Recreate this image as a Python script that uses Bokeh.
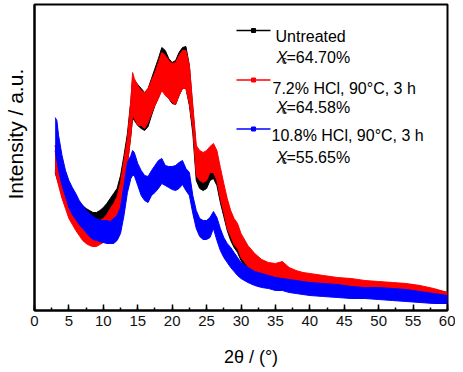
from bokeh.plotting import figure
from bokeh.models import Label, Range1d, SingleIntervalTicker, FixedTicker
from bokeh.embed import file_html
from bokeh.resources import INLINE

# ---------------- data (intensity in arbitrary units) ----------------
theta = [3.0, 3.25, 3.5, 4.0, 4.5, 5.0, 5.5, 6.0, 6.5, 7.0, 7.5, 8.0, 8.5, 9.0, 9.5,
         10.0, 10.5, 11.0, 11.5, 12.0, 12.5, 13.0, 13.5, 14.0, 14.25, 14.5, 15.0, 15.5,
         16.0, 16.5, 17.0, 17.5, 18.0, 18.5, 19.0, 19.5, 20.0, 20.5, 21.0, 21.5, 22.0,
         22.5, 23.0, 23.5, 24.0, 24.5, 25.0, 25.5, 26.0, 26.5, 27.0, 27.5, 28.0, 28.5,
         29.0, 29.5, 30.0, 31.0, 32.0, 33.0, 34.0, 35.0, 36.0, 37.0, 38.0, 39.0, 40.0,
         42.0, 44.0, 46.0, 48.0, 50.0, 52.0, 54.0, 56.0, 58.0, 60.0]

# Untreated (noise band: upper / lower envelope)
untreated_hi = [165, 157, 150, 140, 132, 127, 120, 114, 109, 105, 102, 100, 98, 98, 100,
                103, 107, 112, 117, 122, 135, 155, 177, 210, 232, 230, 226, 222,
                218, 222, 232, 242, 252, 263, 260, 252, 248, 250, 258, 263, 264,
                245, 202, 162, 155, 152, 154, 160, 163, 155, 138, 122, 108, 97,
                89, 82, 74, 60, 52, 47, 44, 43, 44, 40, 38, 36, 35,
                33, 32, 30, 29, 28, 27, 26, 24, 21, 18]
untreated_lo = [138, 132, 127, 115, 107, 100, 94, 88, 84, 80, 77, 75, 74, 74, 78,
                82, 86, 91, 97, 102, 110, 125, 147, 175, 192, 190, 185, 182,
                180, 184, 195, 205, 213, 222, 218, 212, 207, 206, 215, 222, 222,
                205, 177, 130, 122, 120, 122, 130, 132, 125, 108, 94, 80, 70,
                63, 58, 50, 40, 33, 30, 28, 27, 27, 25, 24, 22, 21,
                20, 19, 18, 16, 15, 14, 14, 12, 11, 10]

# 7.2% HCl, 90 C, 3 h
hcl72_hi = [165, 155, 148, 135, 125, 120, 112, 105, 100, 95, 91, 89, 88, 88, 90,
            92, 96, 102, 107, 114, 128, 150, 172, 210, 238, 232, 225, 220,
            218, 222, 230, 238, 248, 258, 255, 250, 247, 248, 255, 260, 260,
            245, 205, 165, 160, 158, 160, 164, 167, 160, 143, 127, 112, 100,
            92, 87, 77, 65, 57, 51, 48, 47, 49, 43, 40, 38, 37,
            35, 33, 32, 30, 29, 28, 27, 25, 22, 18]
hcl72_lo = [140, 132, 125, 112, 102, 92, 86, 80, 75, 70, 67, 65, 64, 64, 66,
            68, 72, 80, 82, 88, 98, 115, 145, 175, 195, 192, 185, 185,
            182, 188, 197, 205, 212, 220, 215, 212, 208, 206, 215, 222, 222,
            207, 182, 135, 130, 128, 130, 138, 138, 130, 112, 98, 82, 74,
            66, 62, 53, 44, 37, 33, 31, 30, 30, 28, 26, 24, 23,
            22, 20, 19, 17, 16, 15, 15, 13, 11, 10]

# 10.8% HCl, 90 C, 3 h
hcl108_hi = [193, 190, 175, 155, 140, 130, 123, 117, 110, 105, 100, 97, 94, 92, 90,
             90, 90, 89, 92, 95, 103, 125, 148, 155, 160, 158, 147, 140,
             135, 134, 140, 145, 150, 152, 145, 144, 144, 145, 148, 150, 142,
             138, 115, 100, 92, 90, 90, 93, 99, 93, 82, 73, 67, 63,
             58, 53, 48, 43, 39, 37, 35, 33, 32, 31, 30, 29, 28,
             27, 26, 24, 23, 23, 22, 21, 19, 17, 15]
hcl108_lo = [160, 150, 140, 125, 114, 103, 96, 91, 86, 82, 78, 74, 71, 70, 69,
             68, 67, 67, 67, 70, 77, 95, 118, 132, 135, 135, 125, 115,
             110, 108, 115, 118, 122, 127, 125, 123, 121, 120, 122, 126, 120,
             115, 97, 82, 74, 71, 71, 73, 82, 70, 60, 53, 48, 43,
             39, 35, 32, 28, 25, 23, 22, 20, 20, 18, 17, 16, 15,
             14, 13, 12, 12, 11, 10, 9, 8, 7, 7]

series_names = ["Untreated", "7.2% HCl, 90\u00b0C, 3 h", "10.8% HCl, 90\u00b0C, 3 h"]
series_xc = ["=64.70%", "=64.58%", "=55.65%"]
x_ticks_interval = 5

# ---------------- styling ----------------
FONT = "Liberation Sans"
colors = ["#000000", "#ff0000", "#0000ff"]

FRAME_L, FRAME_W, FRAME_B = 34, 413, 310
PX_PER_DEG = FRAME_W / 60.0


def dx(px):
    return (px - FRAME_L) / PX_PER_DEG


def dy(py):
    return FRAME_B - py


p = figure(frame_width=413, frame_height=306,
           x_range=Range1d(0, 60), y_range=Range1d(0, 306),
           output_backend="svg", toolbar_location=None,
           min_border_left=34, min_border_right=8,
           min_border_top=4, min_border_bottom=60)

p.xgrid.visible = False
p.ygrid.visible = False
p.outline_line_color = "black"
p.outline_line_width = 2
p.background_fill_color = "white"
p.border_fill_color = "white"

NB = "\u00a0"
yax = p.yaxis[0]
yax.ticker = FixedTicker(ticks=[])
yax.axis_line_color = "black"
yax.axis_line_width = 2
yax.major_tick_out = 0
yax.major_tick_in = 0
yax.minor_tick_out = 0
yax.minor_tick_in = 0
yax.major_label_standoff = 0
yax.major_label_text_font_size = "1px"
yax.axis_label = NB * 8 + "Intensity / a.u."
yax.axis_label_text_font = FONT
yax.axis_label_text_font_size = "21px"
yax.axis_label_text_font_style = "normal"
yax.axis_label_text_color = "black"
yax.axis_label_standoff = 8

ax = p.xaxis[0]
ax.ticker = SingleIntervalTicker(interval=x_ticks_interval, num_minor_ticks=2)
ax.axis_line_color = "black"
ax.axis_line_width = 2
ax.major_tick_in = 6
ax.major_tick_out = 0
ax.minor_tick_in = 3
ax.minor_tick_out = 0
ax.major_tick_line_width = 1.5
ax.minor_tick_line_width = 1.5
ax.major_label_text_font = FONT
ax.major_label_text_font_size = "15px"
ax.major_label_text_color = "#111111"
ax.major_label_standoff = 5
ax.axis_label = NB * 4 + "2\u03b8 / (\u00b0)"
ax.axis_label_text_font = FONT
ax.axis_label_text_font_size = "18px"
ax.axis_label_text_font_style = "normal"
ax.axis_label_text_color = "black"
ax.axis_label_standoff = 18

# bands (noise envelope of each pattern)
for lo, hi, c in [(untreated_lo, untreated_hi, colors[0]),
                  (hcl72_lo, hcl72_hi, colors[1]),
                  (hcl108_lo, hcl108_hi, colors[2])]:
    p.varea(x=theta, y1=lo, y2=hi, fill_color=c, fill_alpha=1.0)
    p.line(x=theta, y=hi, line_color=c, line_width=1)
    p.line(x=theta, y=lo, line_color=c, line_width=1)

# legend (drawn by hand)
rows_line_py = [30, 79.5, 128.5]
rows_text_py = [36, 88, 135]
rows_xc_py = [57, 107, 157]
text_x = [275, 272, 271]
for i in range(3):
    p.line(x=[dx(236), dx(270)], y=[dy(rows_line_py[i])] * 2,
           line_color=colors[i], line_width=1.3)
    p.scatter(x=[dx(253)], y=[dy(rows_line_py[i])], marker="square", size=4,
              fill_color=colors[i], line_color=colors[i])
    p.add_layout(Label(x=dx(text_x[i]), y=dy(rows_text_py[i]), text=series_names[i],
                       text_font=FONT, text_font_size="16px", text_color="black",
                       text_baseline="alphabetic", text_align="left"))
    p.add_layout(Label(x=dx(276), y=dy(rows_xc_py[i]), text="X",
                       text_font=FONT, text_font_size="16px", text_font_style="italic",
                       text_color="black", text_baseline="alphabetic", text_align="left"))
    p.add_layout(Label(x=dx(281.5), y=dy(rows_xc_py[i] + 3), text="c",
                       text_font=FONT, text_font_size="10px",
                       text_color="black", text_baseline="alphabetic", text_align="left"))
    p.add_layout(Label(x=dx(286), y=dy(rows_xc_py[i]), text=series_xc[i],
                       text_font=FONT, text_font_size="16px",
                       text_color="black", text_baseline="alphabetic", text_align="left"))

open("out.html", "w").write(file_html(p, INLINE))
